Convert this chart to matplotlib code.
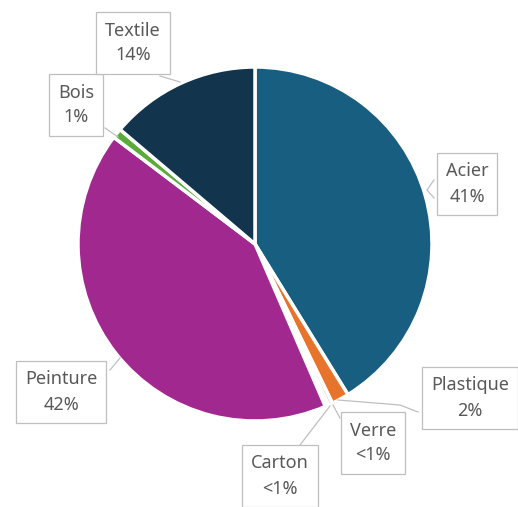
import matplotlib
matplotlib.use("Agg")
import matplotlib.pyplot as plt

categories = ["Acier", "Plastique", "Verre", "Carton", "Peinture", "Bois", "Textile"]
values = [41.2, 1.6, 0.4, 0.3, 41.8, 0.9, 13.8]
pct_labels = ["41%", "2%", "<1%", "<1%", "42%", "1%", "14%"]
colors = ["#175e80", "#e8742c", "#d9d9d9", "#d9d9d9", "#a1288f", "#5aab3a", "#12344d"]

W, H = 518, 507
fig = plt.figure(figsize=(W / 100, H / 100), dpi=100)
ax = fig.add_axes([0, 0, 1, 1])

def Y(y):
    return H - y

cx, cy, r = 255, 244, 177
ax.pie(values, colors=colors, startangle=90, counterclock=False,
       center=(cx, Y(cy)), radius=r,
       wedgeprops=dict(edgecolor="white", linewidth=2.5))
ax.set_xlim(0, W)
ax.set_ylim(0, H)
ax.set_aspect("equal")
ax.axis("off")

# label boxes: (x, y) centre in pixels, leader endpoints
label_pos = {
    "Textile": (133, 43, [(160, 76), (180, 82)]),
    "Bois": (76, 105, [(105, 128), (118, 137)]),
    "Acier": (467, 184, [(434, 180), (427, 190), (434, 198)]),
    "Peinture": (61, 392, [(110, 370), (120, 358)]),
    "Plastique": (470, 398, [(418, 412), (400, 405), (338, 400)]),
    "Verre": (373, 443, [(340, 418), (333, 405)]),
    "Carton": (280, 476, [(300, 445), (330, 406)]),
}

fam = ["Noto Sans", "DejaVu Sans"]
for cat, pct in zip(categories, pct_labels):
    x, y, pts = label_pos[cat]
    xs = [p[0] for p in pts]
    ys = [Y(p[1]) for p in pts]
    ax.plot(xs, ys, color="#bfbfbf", linewidth=0.9, zorder=3)
    ax.text(x, Y(y), f"{cat}\n{pct}", ha="center", va="center",
            fontsize=13, color="#595959", family=fam, linespacing=1.5,
            zorder=4,
            bbox=dict(boxstyle="square,pad=0.5", facecolor="white",
                      edgecolor="#bfbfbf", linewidth=0.9))

fig.savefig("out.png", dpi=100, facecolor="white")
